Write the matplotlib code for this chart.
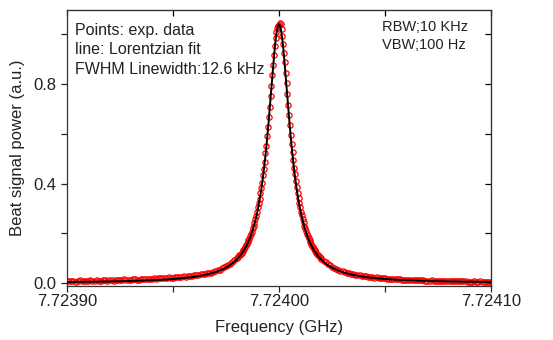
import numpy as np
import matplotlib.pyplot as plt
from matplotlib.ticker import MultipleLocator, FormatStrFormatter

plt.rcParams['font.family'] = ['Liberation Sans', 'DejaVu Sans']

# frequency offsets (kHz) from 7.724 GHz and measured beat power (a.u.)
f0 = 7.72400  # GHz
tail_left_khz = np.arange(-100, -20, 1.0)
core_khz = np.arange(-20.0, 20.01, 0.4)
tail_right_khz = np.arange(21, 101, 1.0)

p_tail_left = [0.009, 0.007, 0.010, 0.008, 0.006, 0.009, 0.011, 0.008, 0.007, 0.010,
               0.009, 0.011, 0.008, 0.010, 0.012, 0.009, 0.008, 0.011, 0.012, 0.010,
               0.011, 0.013, 0.010, 0.012, 0.014, 0.011, 0.013, 0.015, 0.012, 0.014,
               0.013, 0.015, 0.016, 0.014, 0.013, 0.016, 0.017, 0.015, 0.018, 0.016,
               0.017, 0.019, 0.018, 0.020, 0.019, 0.021, 0.022, 0.020, 0.023, 0.022,
               0.021, 0.024, 0.025, 0.023, 0.026, 0.027, 0.025, 0.029, 0.030, 0.028,
               0.031, 0.033, 0.032, 0.035, 0.037, 0.036, 0.040, 0.042, 0.041, 0.045,
               0.048, 0.051, 0.054, 0.059, 0.063, 0.067, 0.072, 0.078, 0.085, 0.092]

p_core = [0.099, 0.101, 0.104, 0.111, 0.113, 0.118, 0.121, 0.129, 0.133, 0.137,
          0.146, 0.151, 0.156, 0.166, 0.172, 0.179, 0.191, 0.198, 0.207, 0.221,
          0.231, 0.241, 0.258, 0.270, 0.284, 0.304, 0.320, 0.337, 0.361, 0.381,
          0.404, 0.433, 0.459, 0.487, 0.521, 0.553, 0.590, 0.627, 0.668, 0.708,
          0.752, 0.793, 0.838, 0.878, 0.918, 0.952, 0.985, 1.008, 1.026, 1.034,
          1.038,
          1.046, 1.040, 1.022, 0.995, 0.962, 0.926, 0.887, 0.845, 0.803, 0.760,
          0.716, 0.676, 0.635, 0.597, 0.561, 0.526, 0.494, 0.464, 0.437, 0.410,
          0.386, 0.363, 0.341, 0.323, 0.305, 0.287, 0.272, 0.257, 0.244, 0.231,
          0.220, 0.209, 0.199, 0.189, 0.181, 0.172, 0.164, 0.157, 0.150, 0.144,
          0.138, 0.132, 0.127, 0.122, 0.117, 0.113, 0.108, 0.104, 0.101, 0.097]

p_tail_right = [0.089, 0.083, 0.076, 0.071, 0.066, 0.061, 0.057, 0.053, 0.050, 0.047,
                0.044, 0.042, 0.039, 0.038, 0.035, 0.034, 0.032, 0.031, 0.029, 0.028,
                0.027, 0.025, 0.026, 0.023, 0.022, 0.023, 0.020, 0.021, 0.019, 0.019,
                0.018, 0.017, 0.018, 0.016, 0.016, 0.015, 0.016, 0.014, 0.014, 0.013,
                0.013, 0.014, 0.012, 0.012, 0.013, 0.011, 0.011, 0.012, 0.010, 0.010,
                0.010, 0.011, 0.009, 0.009, 0.010, 0.009, 0.008, 0.009, 0.008, 0.008,
                0.008, 0.009, 0.007, 0.007, 0.008, 0.007, 0.007, 0.008, 0.006, 0.006,
                0.006, 0.007, 0.006, 0.006, 0.007, 0.006, 0.005, 0.006, 0.005, 0.005]

# Lorentzian fit parameters
fit_amp = 1.04
fit_fwhm_khz = 12.6
fit_offset = 0.0

freq_khz = np.concatenate([tail_left_khz, core_khz, tail_right_khz])
power = np.array(p_tail_left + p_core + p_tail_right)
freq = f0 + freq_khz * 1e-6

xf_khz = np.linspace(-100, 100, 2001)
g = fit_fwhm_khz / 2
fit = fit_offset + fit_amp * g**2 / (xf_khz**2 + g**2)

fig = plt.figure(figsize=(5.53, 3.4), dpi=100)
ax = fig.add_axes([0.1212, 0.1588, 0.7667, 0.8118])

ax.plot(freq, power, 'o', mfc='none', mec='#ff0000', ms=3.8, mew=0.9, zorder=2)
ax.plot(f0 + xf_khz * 1e-6, fit, color='black', lw=1.4, zorder=3)

ax.set_xlim(7.72390, 7.72410)
ax.set_ylim(-0.012, 1.098)
ax.xaxis.set_major_locator(MultipleLocator(0.0001))
ax.xaxis.set_minor_locator(MultipleLocator(0.00005))
ax.xaxis.set_major_formatter(FormatStrFormatter('%.5f'))
ax.yaxis.set_major_locator(MultipleLocator(0.4))
ax.yaxis.set_minor_locator(MultipleLocator(0.2))
ax.yaxis.set_major_formatter(FormatStrFormatter('%.1f'))
ax.tick_params(which='both', direction='out', labelsize=12, width=0.9,
               colors='#222222', length=4)
ax.tick_params(axis='x', pad=2)
for s in ax.spines.values():
    s.set_linewidth(0.9)
    s.set_color('#333333')

top = ax.secondary_xaxis('top')
top.xaxis.set_major_locator(MultipleLocator(0.00005))
top.tick_params(direction='in', length=4, labeltop=False, width=0.9)
right = ax.secondary_yaxis('right')
right.yaxis.set_major_locator(MultipleLocator(0.2))
right.tick_params(direction='in', length=4, labelright=False, width=0.9)

ax.set_xlabel('Frequency (GHz)', fontsize=12, labelpad=8, color='#222222')
ax.set_ylabel('Beat signal power (a.u.)', fontsize=12, labelpad=6, color='#222222')

ax.text(0.019, 0.924, 'Points: exp. data', transform=ax.transAxes,
        fontsize=11.5, va='center', color='#222222')
ax.text(0.019, 0.857, 'line: Lorentzian fit', transform=ax.transAxes,
        fontsize=11.5, va='center', color='#222222')
ax.text(0.019, 0.786, 'FWHM Linewidth:12.6 kHz', transform=ax.transAxes,
        fontsize=11.5, va='center', color='#222222')
ax.text(0.743, 0.939, 'RBW;10 KHz', transform=ax.transAxes,
        fontsize=10.5, va='center', color='#222222')
ax.text(0.743, 0.873, 'VBW;100 Hz', transform=ax.transAxes,
        fontsize=10.5, va='center', color='#222222')

fig.savefig('out.png', dpi=100)
